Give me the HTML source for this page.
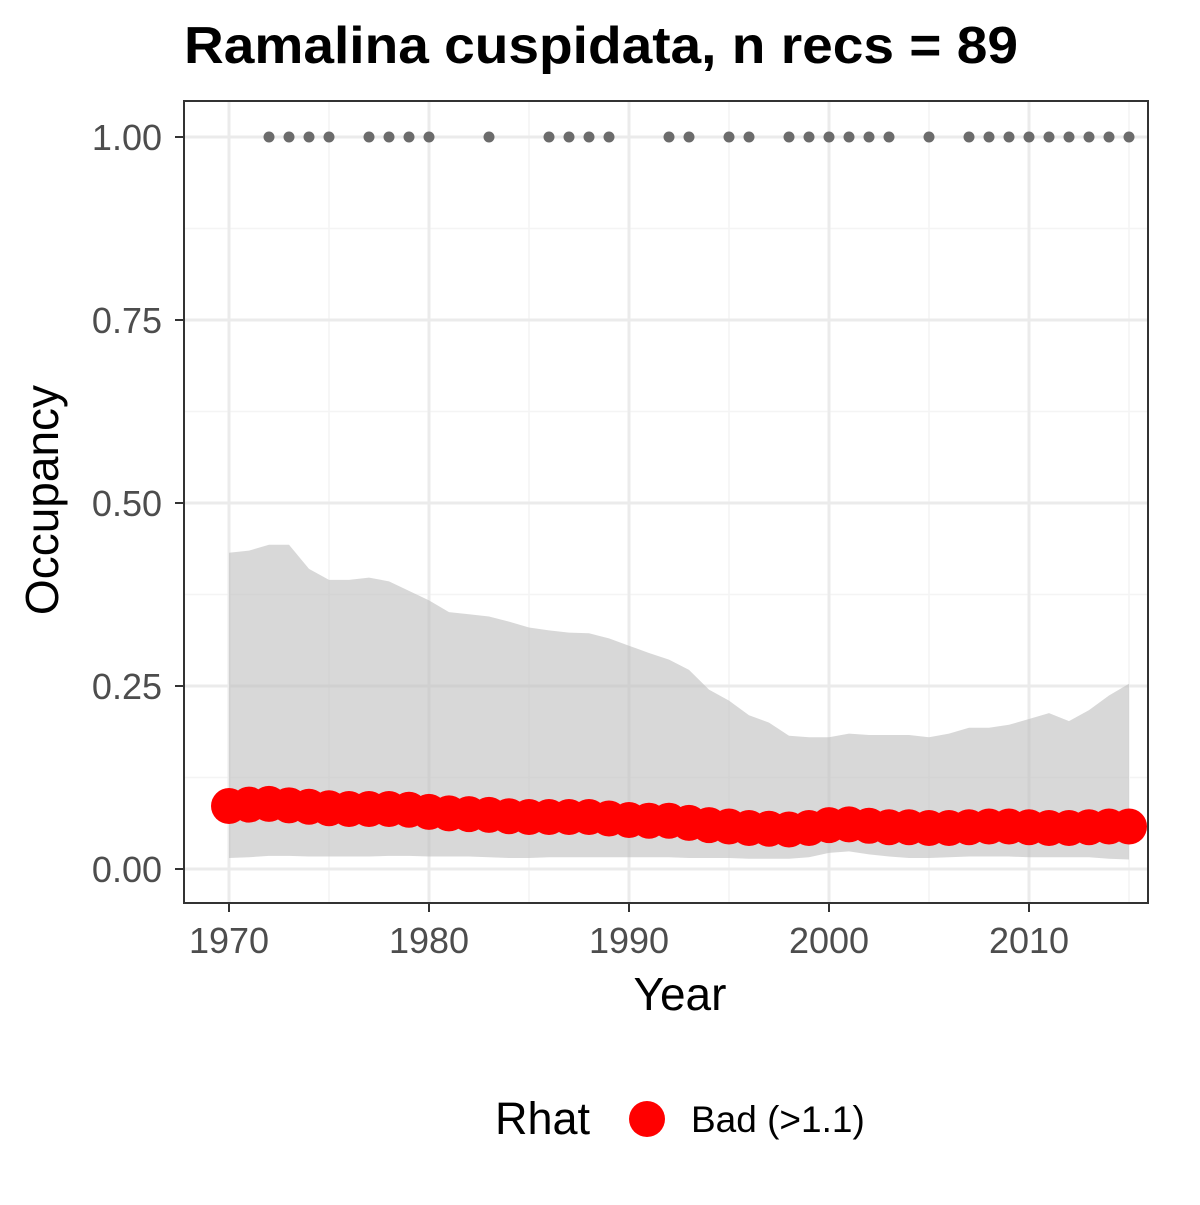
<!DOCTYPE html>
<html><head><meta charset="utf-8"><style>
body{margin:0;background:#fff}
svg text{font-family:"Liberation Sans",Arial,sans-serif}
</style></head><body>
<svg id="chart" width="1200" height="1200" viewBox="0 0 1200 1200" xmlns="http://www.w3.org/2000/svg">
<rect width="1200" height="1200" fill="#fff"/>
<text x="184" y="63" font-size="52" font-weight="bold" fill="#000" textLength="834" lengthAdjust="spacingAndGlyphs">Ramalina cuspidata, n recs = 89</text>
<g id="grid"></g>
<g id="band"></g>
<g id="recs"></g>
<g id="means"></g>
<rect x="184" y="101" width="964" height="802" fill="none" stroke="#333" stroke-width="2"/>
<g id="axes"></g>
<text x="680" y="1010" font-size="46" text-anchor="middle" fill="#000">Year</text>
<text transform="translate(58,500) rotate(-90)" font-size="46" text-anchor="middle" fill="#000">Occupancy</text>
<g>
<text x="495" y="1134" font-size="45" fill="#000">Rhat</text>
<circle cx="647" cy="1119" r="18" fill="#ff0000"/>
<text x="691" y="1132" font-size="37" fill="#000">Bad (&gt;1.1)</text>
</g>
</svg>
<script>
const years=[1970,1971,1972,1973,1974,1975,1976,1977,1978,1979,1980,1981,1982,1983,1984,1985,1986,1987,1988,1989,1990,1991,1992,1993,1994,1995,1996,1997,1998,1999,2000,2001,2002,2003,2004,2005,2006,2007,2008,2009,2010,2011,2012,2013,2014,2015];
const upper=[0.432,0.435,0.443,0.443,0.41,0.395,0.395,0.398,0.393,0.38,0.367,0.351,0.348,0.345,0.338,0.33,0.326,0.323,0.322,0.315,0.305,0.295,0.286,0.272,0.245,0.23,0.21,0.2,0.182,0.18,0.18,0.185,0.183,0.183,0.183,0.18,0.185,0.193,0.193,0.197,0.205,0.213,0.202,0.217,0.237,0.253];
const lower=[0.015,0.016,0.018,0.018,0.017,0.017,0.017,0.017,0.018,0.018,0.017,0.017,0.017,0.016,0.015,0.015,0.016,0.016,0.016,0.016,0.016,0.016,0.016,0.015,0.015,0.015,0.014,0.014,0.014,0.016,0.022,0.024,0.02,0.017,0.015,0.015,0.016,0.017,0.017,0.017,0.016,0.016,0.016,0.016,0.014,0.013];
const mean=[0.086,0.088,0.089,0.087,0.085,0.083,0.082,0.082,0.082,0.081,0.078,0.076,0.075,0.074,0.072,0.071,0.071,0.071,0.071,0.069,0.067,0.066,0.066,0.063,0.06,0.058,0.056,0.055,0.054,0.056,0.06,0.061,0.059,0.057,0.057,0.056,0.056,0.057,0.058,0.058,0.057,0.056,0.056,0.057,0.058,0.058];
const recYears=[1972,1973,1974,1975,1977,1978,1979,1980,1983,1986,1987,1988,1989,1992,1993,1995,1996,1998,1999,2000,2001,2002,2003,2005,2007,2008,2009,2010,2011,2012,2013,2014,2015];
const xTicks=[1970,1980,1990,2000,2010];
const yTicks=[0,0.25,0.5,0.75,1];
const yTickLabels=["0.00","0.25","0.50","0.75","1.00"];
const NS="http://www.w3.org/2000/svg";
const X=y=>229+(y-1970)*20;
const Y=v=>869-v*732;
function mk(tag,attrs,parent){const e=document.createElementNS(NS,tag);for(const k in attrs)e.setAttribute(k,attrs[k]);document.getElementById(parent).appendChild(e);return e;}
[1975,1985,1995,2005,2015].forEach(y=>{const l=mk('line',{x1:X(y),x2:X(y),y1:101,y2:903,stroke:'#f4f4f4','stroke-width':1.5},'grid');

});
[0.125,0.375,0.625,0.875].forEach(v=>{const l=mk('line',{x1:184,x2:1148,y1:Y(v),y2:Y(v),stroke:'#f4f4f4','stroke-width':1.5},'grid');

});
xTicks.forEach(y=>{const l=mk('line',{x1:X(y),x2:X(y),y1:101,y2:903,stroke:'#ebebeb','stroke-width':3},'grid');

});
yTicks.forEach(v=>{const l=mk('line',{x1:184,x2:1148,y1:Y(v),y2:Y(v),stroke:'#ebebeb','stroke-width':3},'grid');

});
let d='M'+years.map((y,i)=>X(y)+','+Y(upper[i])).join('L');
d+='L'+years.slice().reverse().map((y,j)=>{const i=years.length-1-j;return X(y)+','+Y(lower[i]);}).join('L')+'Z';
const band=mk('path',{d:d,fill:'#bebebe','fill-opacity':0.6},'band');


recYears.forEach(y=>{const c=mk('circle',{cx:X(y),cy:Y(1),r:5.5,fill:'#6b6b6b'},'recs');

});
years.forEach((y,i)=>{const c=mk('circle',{cx:X(y),cy:Y(mean[i]),r:18,fill:'#ff0000'},'means');

});
xTicks.forEach(y=>{const t=mk('line',{x1:X(y),x2:X(y),y1:903,y2:912,stroke:'#333','stroke-width':2},'axes');


const l=mk('text',{x:X(y),y:953,'font-size':36,'text-anchor':'middle',fill:'#4d4d4d'},'axes');l.textContent=y;

});
yTicks.forEach((v,i)=>{const t=mk('line',{x1:175,x2:184,y1:Y(v),y2:Y(v),stroke:'#333','stroke-width':2},'axes');


const l=mk('text',{x:162,y:Y(v)+13,'font-size':36,'text-anchor':'end',fill:'#4d4d4d'},'axes');l.textContent=yTickLabels[i];

});
</script>
</body></html>
